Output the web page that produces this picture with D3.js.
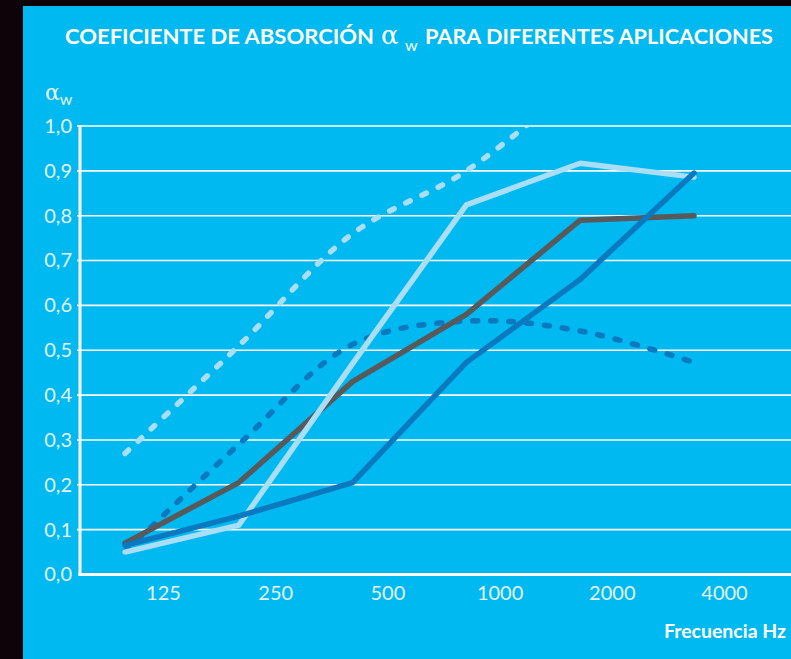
<!DOCTYPE html>
<html>
<head>
<meta charset="utf-8">
<script src="https://cdn.jsdelivr.net/npm/d3@7"></script>
<style>
  html, body { margin: 0; padding: 0; background: #0d0308; }
  svg { display: block; }
</style>
</head>
<body>
<div id="chart"></div>
<script>
// Frequencies (Hz) and y ticks
const freqs = ["125", "250", "500", "1000", "2000", "4000"];
const yTicks = [0, 0.1, 0.2, 0.3, 0.4, 0.5, 0.6, 0.7, 0.8, 0.9, 1.0];

// Series values
const lightDashed = [0.27, 0.51, 0.76, 0.90, 1.10];
const darkDashed = [0.05, 0.29, 0.513, 0.565, 0.543, 0.473];
const greySolid = [0.07, 0.205, 0.43, 0.58, 0.79, 0.80];
const lightSolid = [0.05, 0.11, 0.47, 0.824, 0.917, 0.886];
const blueSolid = [0.065, 0.13, 0.205, 0.473, 0.658, 0.895];

const series = [
  { values: lightDashed, color: "#a9def6", dash: "5 13", curve: d3.curveCatmullRom },
  { values: darkDashed, color: "#0a79c0", dash: "5 13", curve: d3.curveCatmullRom },
  { values: greySolid, color: "#58595b", dash: null, curve: d3.curveLinear },
  { values: lightSolid, color: "#a9def6", dash: null, curve: d3.curveLinear },
  { values: blueSolid, color: "#0a79c0", dash: null, curve: d3.curveLinear }
];

document.addEventListener("DOMContentLoaded", function () {
  const width = 791;
  const height = 659;
  const margin = { top: 126, right: 0, bottom: 84, left: 80 };
  const bg = "#00b9f1";
  const labelColor = "#e4f5fd";

  const svg = d3.select("#chart")
    .append("svg")
    .attr("width", width)
    .attr("height", height);

  // Blue panel (black strip on top and left)
  svg.append("rect")
    .attr("x", 23)
    .attr("y", 6)
    .attr("width", width - 23)
    .attr("height", height - 6)
    .attr("fill", bg);

  // Scales
  const x = d3.scalePoint()
    .domain(freqs)
    .range([125, 694]);

  const xLabel = d3.scalePoint()
    .domain(freqs)
    .range([163, 724]);

  const y = d3.scaleLinear()
    .domain([0, 1])
    .range([height - margin.bottom - 0.5, margin.top]);

  // Title, in pieces so alpha and its subscript sit right
  const titleFont = "Lato, 'DejaVu Sans', sans-serif";
  svg.append("text")
    .attr("x", 65).attr("y", 44)
    .attr("fill", "white")
    .attr("font-family", titleFont)
    .attr("font-weight", "bold")
    .attr("font-size", 21)
    .attr("textLength", 309)
    .attr("lengthAdjust", "spacingAndGlyphs")
    .text("COEFICIENTE DE ABSORCIÓN");
  svg.append("text")
    .attr("x", 381).attr("y", 44)
    .attr("fill", "white")
    .attr("font-family", "'DejaVu Serif', serif")
    .attr("font-size", 26)
    .text("α");
  svg.append("text")
    .attr("x", 405).attr("y", 51)
    .attr("fill", "white")
    .attr("font-family", titleFont)
    .attr("font-size", 16)
    .text("w");
  svg.append("text")
    .attr("x", 425).attr("y", 44)
    .attr("fill", "white")
    .attr("font-family", titleFont)
    .attr("font-weight", "bold")
    .attr("font-size", 21)
    .attr("textLength", 348)
    .attr("lengthAdjust", "spacingAndGlyphs")
    .text("PARA DIFERENTES APLICACIONES");

  // Horizontal grid lines
  svg.append("g")
    .selectAll("line")
    .data(yTicks.filter(d => d > 0))
    .enter()
    .append("line")
    .attr("x1", margin.left - 3)
    .attr("x2", width)
    .attr("y1", d => y(d))
    .attr("y2", d => y(d))
    .attr("stroke", "white")
    .attr("stroke-width", 1.6);

  // Y axis
  const yAxis = svg.append("g")
    .attr("transform", `translate(${margin.left},0)`)
    .call(d3.axisLeft(y)
      .tickValues(yTicks)
      .tickSize(0)
      .tickPadding(8)
      .tickFormat(d => d3.format(".1f")(d).replace(".", ",")));
  yAxis.select(".domain").remove();
  yAxis.selectAll("text")
    .attr("fill", labelColor)
    .attr("font-family", "Lato, sans-serif")
    .attr("font-size", 20);

  // alpha_w label
  const aw = svg.append("text")
    .attr("x", 45)
    .attr("y", 100)
    .attr("fill", labelColor)
    .attr("font-family", "'DejaVu Serif', serif")
    .attr("font-size", 22);
  aw.append("tspan").text("α");
  aw.append("tspan")
    .attr("font-family", "Lato, sans-serif")
    .attr("font-size", 16)
    .attr("dy", 5)
    .text("w");

  // Axis lines
  svg.append("line")
    .attr("x1", margin.left)
    .attr("x2", margin.left)
    .attr("y1", y(1) - 1)
    .attr("y2", y(0) + 1.5)
    .attr("stroke", "white")
    .attr("stroke-width", 3);
  svg.append("line")
    .attr("x1", margin.left - 1.5)
    .attr("x2", width)
    .attr("y1", y(0))
    .attr("y2", y(0))
    .attr("stroke", "white")
    .attr("stroke-width", 3);

  // X axis labels
  const xAxis = svg.append("g")
    .attr("transform", `translate(0,${y(0)})`)
    .call(d3.axisBottom(xLabel).tickSize(0).tickPadding(11));
  xAxis.select(".domain").remove();
  xAxis.selectAll("text")
    .attr("fill", labelColor)
    .attr("font-family", "Lato, sans-serif")
    .attr("font-size", 20);

  svg.append("text")
    .attr("x", 786)
    .attr("y", 638)
    .attr("text-anchor", "end")
    .attr("fill", "white")
    .attr("font-family", "Lato, sans-serif")
    .attr("font-weight", "bold")
    .attr("font-size", 19)
    .attr("textLength", 122)
    .attr("lengthAdjust", "spacingAndGlyphs")
    .text("Frecuencia Hz");

  // Clip so the light dashed line stops at 1,0
  svg.append("clipPath")
    .attr("id", "plot-clip")
    .append("rect")
    .attr("x", margin.left)
    .attr("y", y(1) + 1)
    .attr("width", width - margin.left)
    .attr("height", y(0) - y(1));

  // Lines
  const lines = svg.append("g").attr("clip-path", "url(#plot-clip)");
  series.forEach(s => {
    const line = d3.line()
      .x((d, i) => x(freqs[i]))
      .y(d => y(d))
      .curve(s.curve);
    lines.append("path")
      .datum(s.values)
      .attr("fill", "none")
      .attr("stroke", s.color)
      .attr("stroke-width", 5.5)
      .attr("stroke-linecap", "round")
      .attr("stroke-linejoin", "round")
      .attr("stroke-dasharray", s.dash)
      .attr("d", line);
  });
});
</script>
</body>
</html>
